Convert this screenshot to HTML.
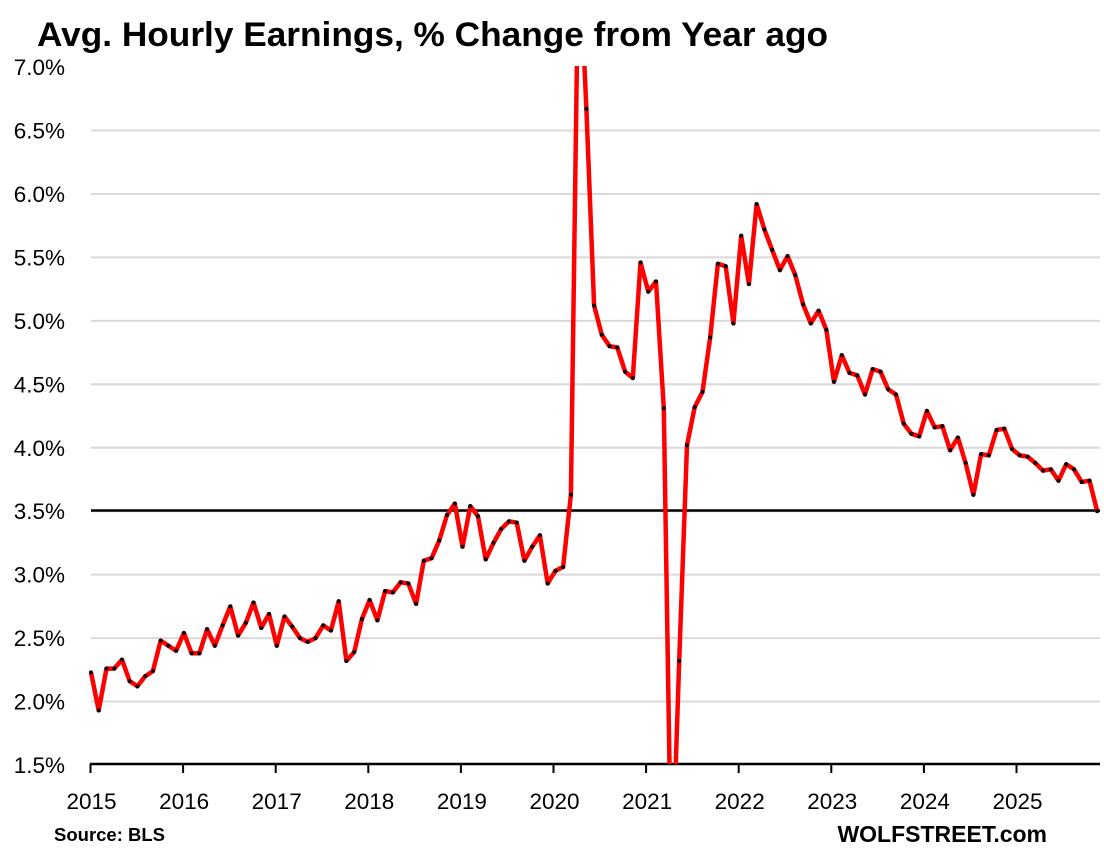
<!DOCTYPE html>
<html><head><meta charset="utf-8"><style>
html,body{margin:0;padding:0;background:#fff;}
svg{display:block;font-family:"Liberation Sans",Arial,sans-serif;}
</style></head><body>
<svg id="s" width="1104" height="854" viewBox="0 0 1104 854" xmlns="http://www.w3.org/2000/svg">
<defs><clipPath id="c"><rect x="80" y="66" width="1030" height="698"/></clipPath></defs>
<text x="37" y="46" font-size="34" font-weight="bold" fill="#000" textLength="791" lengthAdjust="spacingAndGlyphs">Avg. Hourly Earnings, % Change from Year ago</text>
<g id="grid"></g>
<g id="ylab" font-size="22.5" fill="#000" text-anchor="end"></g>
<line x1="91" y1="510.5" x2="1100" y2="510.5" stroke="#000" stroke-width="2.5"/>
<line x1="90" y1="764" x2="1100" y2="764" stroke="#000" stroke-width="2.5"/>
<g id="xt"></g>
<g id="xlab" font-size="22.5" fill="#000" text-anchor="middle"></g>
<g clip-path="url(#c)"><path id="p" fill="none" stroke="#ff0000" stroke-width="4.5" stroke-linejoin="round"/><g id="dots"></g></g>
<text x="54" y="841" font-size="18.5" font-weight="bold" fill="#000">Source: BLS</text>
<text x="1047" y="842" font-size="23" font-weight="bold" fill="#000" text-anchor="end">WOLFSTREET.com</text>
</svg>
<script>
var ns="http://www.w3.org/2000/svg";
function Y(v){return 765-(v-1.5)/0.5*63.45;}
function el(t,a,p,txt){var e=document.createElementNS(ns,t);for(var k in a)e.setAttribute(k,a[k]);if(txt)e.textContent=txt;document.getElementById(p).appendChild(e);}
for(var i=1;i<=11;i++){var v=1.5+i*0.5;var y=Y(v);if(i<11)el("line",{x1:91,x2:1100,y1:y,y2:y,stroke:"#d9d9d9","stroke-width":2},"grid");}
for(var i=0;i<=11;i++){var v=1.5+i*0.5;el("text",{x:65,y:Y(v)+8},"ylab",v.toFixed(1)+"%");}
for(var yr=0;yr<=11;yr++){var x=90.5+yr*92.6;el("line",{x1:x,x2:x,y1:764,y2:773,stroke:"#000","stroke-width":2},"xt");if(yr<=10)el("text",{x:x+1,y:809},"xlab",String(2015+yr));}
var d=[2.23,1.93,2.26,2.26,2.33,2.16,2.12,2.20,2.24,2.48,2.44,2.40,
2.54,2.38,2.38,2.57,2.44,2.60,2.75,2.52,2.62,2.78,2.58,2.69,
2.44,2.67,2.59,2.50,2.47,2.50,2.60,2.56,2.79,2.32,2.39,2.65,
2.80,2.64,2.87,2.86,2.94,2.93,2.77,3.11,3.13,3.27,3.47,3.56,
3.22,3.54,3.46,3.12,3.25,3.36,3.42,3.41,3.11,3.22,3.31,2.93,
3.03,3.06,3.63,8.0,6.67,5.12,4.89,4.80,4.79,4.60,4.55,5.46,
5.23,5.31,4.31,0.5,2.32,4.02,4.32,4.44,4.87,5.45,5.43,4.98,
5.67,5.29,5.92,5.72,5.56,5.40,5.51,5.36,5.13,4.98,5.08,4.93,
4.52,4.73,4.59,4.57,4.42,4.62,4.60,4.46,4.42,4.19,4.11,4.09,
4.29,4.16,4.17,3.98,4.08,3.88,3.63,3.95,3.94,4.14,4.15,3.99,
3.94,3.93,3.88,3.82,3.83,3.74,3.87,3.83,3.73,3.74,3.50];
var s="";
for(var i=0;i<d.length;i++){var x=91+i*7.74,y=Y(d[i]);s+=(i?"L":"M")+x.toFixed(1)+","+y.toFixed(1);el("circle",{cx:x,cy:y,r:2,fill:"#000"},"dots");}
document.getElementById("p").setAttribute("d",s);
</script>
</body></html>
